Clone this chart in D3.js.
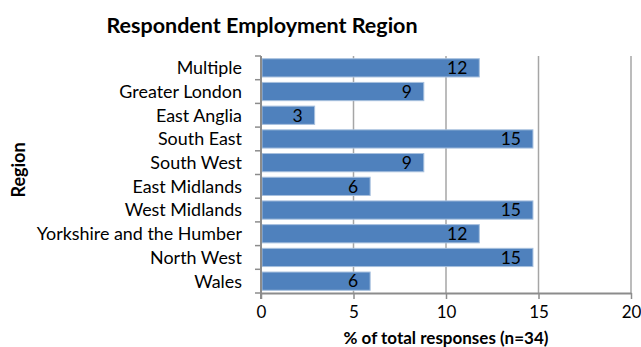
<!DOCTYPE html>
<html>
<head>
<meta charset="utf-8">
<script src="https://cdn.jsdelivr.net/npm/d3@7"></script>
<style>
  body { margin: 0; background: #fff; }
  text { font-family: Lato, "Open Sans", sans-serif; fill: #000; }
</style>
</head>
<body>
<svg id="chart"></svg>
<script>
// data (percent of 34 responses)
const regions = ["Multiple", "Greater London", "East Anglia", "South East", "South West",
  "East Midlands", "West Midlands", "Yorkshire and the Humber", "North West", "Wales"];
const percents = [11.8, 8.8, 2.9, 14.7, 8.8, 5.9, 14.7, 11.8, 14.7, 5.9];
const xTicks = [0, 5, 10, 15, 20];

const width = 641, height = 347;
const margin = {top: 56, right: 10, bottom: 54, left: 261};
const innerW = 631 - margin.left;
const innerH = height - margin.top - margin.bottom;

const data = regions.map((r, i) => ({region: r, value: percents[i]}));

const svg = d3.select('#chart').attr('width', width).attr('height', height);
const g = svg.append('g').attr('transform', `translate(${margin.left},${margin.top})`);

const x = d3.scaleLinear().domain([0, 20]).range([0, innerW]);
const y = d3.scaleBand().domain(regions).range([0, innerH]).paddingInner(0.23).paddingOuter(0.115);

// gridlines
g.selectAll('.grid').data(xTicks.slice(1)).enter().append('line')
  .attr('x1', d => x(d)).attr('x2', d => x(d))
  .attr('y1', 0).attr('y2', innerH)
  .attr('stroke', '#a6a6a6').attr('stroke-width', 1.5);

// bars
g.selectAll('.bar').data(data).enter().append('rect')
  .attr('x', x(0) + 1)
  .attr('y', d => y(d.region))
  .attr('width', d => x(d.value) - x(0) - 1)
  .attr('height', y.bandwidth())
  .attr('fill', '#4f81bd')
  .attr('stroke', '#a7c0de').attr('stroke-width', 1);

// value labels
g.selectAll('.lbl').data(data).enter().append('text')
  .attr('x', d => x(d.value) - 12)
  .attr('y', d => y(d.region) + y.bandwidth() / 2)
  .attr('dy', '0.36em')
  .attr('text-anchor', 'end')
  .style('font-size', '17.5px')
  .text(d => d3.format('.0f')(d.value));

// x axis
const xAxis = g.append('g').attr('transform', `translate(0,${innerH})`)
  .call(d3.axisBottom(x).tickValues(xTicks).tickSize(6).tickPadding(7).tickSizeOuter(0));
xAxis.select('.domain').attr('stroke', '#8c8c8c').attr('stroke-width', 2);
xAxis.selectAll('.tick line').attr('stroke', '#8c8c8c').attr('stroke-width', 1.5);
xAxis.selectAll('.tick text').style('font-size', '17px').style('font-family', 'Lato').attr('fill', '#000');

// y axis: ticks at band boundaries
g.append('line').attr('x1', 0).attr('x2', 0).attr('y1', 0).attr('y2', innerH + 6)
  .attr('stroke', '#8c8c8c').attr('stroke-width', 2);
const step = innerH / regions.length;
g.selectAll('.ytick').data(d3.range(regions.length + 1)).enter().append('line')
  .attr('x1', -6).attr('x2', 0)
  .attr('y1', d => d * step).attr('y2', d => d * step)
  .attr('stroke', '#8c8c8c').attr('stroke-width', 1.5);

g.selectAll('.cat').data(regions).enter().append('text')
  .attr('x', -19)
  .attr('y', d => y(d) + y.bandwidth() / 2)
  .attr('dy', '0.36em')
  .attr('text-anchor', 'end')
  .style('font-size', '17.9px')
  .text(d => d);

// titles
svg.append('text').attr('x', 262).attr('y', 33).attr('text-anchor', 'middle')
  .style('font-size', '21.5px').style('font-weight', 'bold')
  .text('Respondent Employment Region');

svg.append('text').attr('x', 446).attr('y', 343.5).attr('text-anchor', 'middle')
  .style('font-size', '17px').style('font-weight', 'bold')
  .text('% of total responses (n=34)');

svg.append('text').attr('transform', 'translate(25,170) rotate(-90)').attr('text-anchor', 'middle')
  .style('font-size', '18px').style('font-weight', 'bold')
  .text('Region');
</script>
</body>
</html>
